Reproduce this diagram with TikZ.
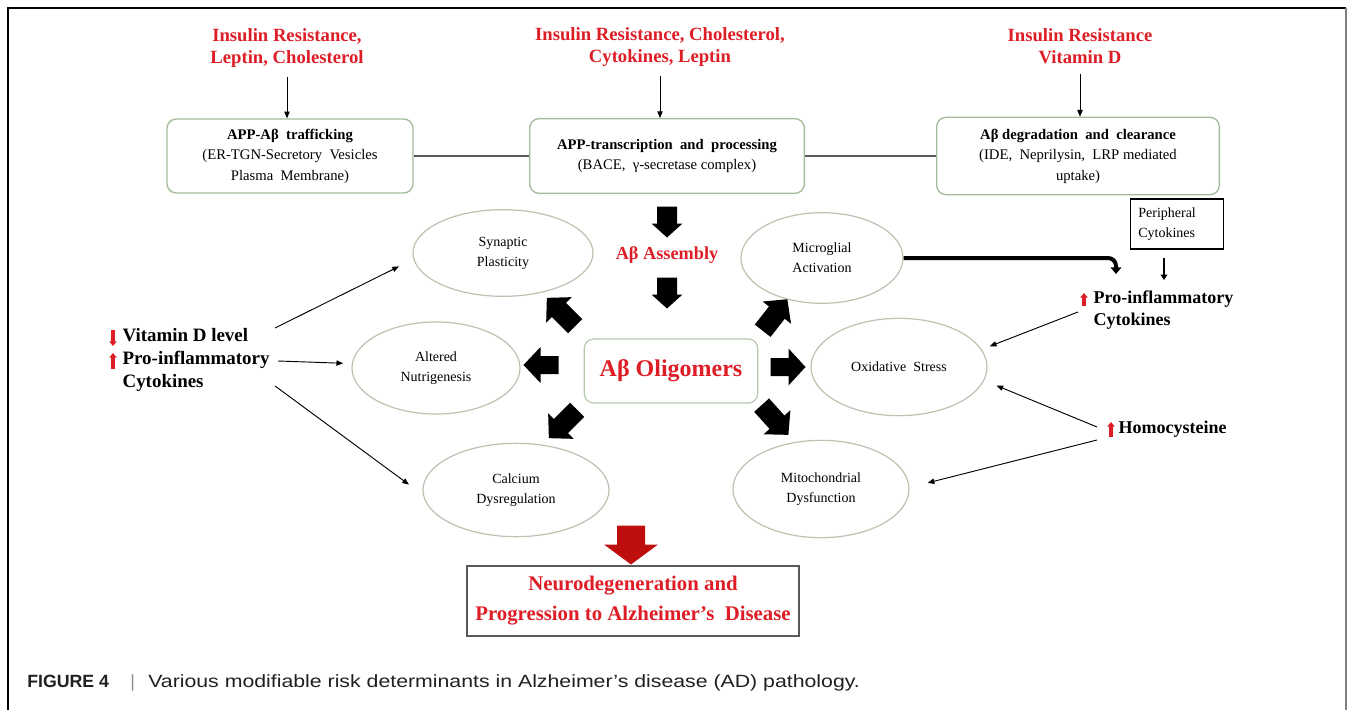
\documentclass[tikz,border=0pt]{standalone}
\usepackage{fontspec}
\setmainfont{Liberation Serif}
\newfontfamily\capfont{Liberation Sans}
\newfontfamily\capwide[FakeStretch=1.2]{Liberation Sans}
\usetikzlibrary{shapes.geometric,arrows.meta,calc}
\definecolor{adred}{RGB}{222,30,38}
\definecolor{boxedge}{RGB}{165,188,155}
\definecolor{elledge}{RGB}{185,195,175}
\definecolor{darkred}{RGB}{190,14,14}
\definecolor{captxt}{RGB}{35,31,32}
% block arrow: x, y, angle, length, shaft width, head width, head length, fill
\newcommand{\blkarr}[8]{%
  \begin{scope}[shift={(#1,#2)},rotate=#3]
    \fill[#8] (-#4/2,-#5/2) -- (#4/2-#7,-#5/2) -- (#4/2-#7,-#6/2) -- (#4/2,0)
      -- (#4/2-#7,#6/2) -- (#4/2-#7,#5/2) -- (-#4/2,#5/2) -- cycle;
  \end{scope}}
\begin{document}
\begin{tikzpicture}[x=0.75pt,y=-0.75pt,
  redlbl/.style={text=adred, font=\bfseries\fontsize{14}{17}\selectfont, align=center, inner sep=1pt},
  rbox/.style={draw=boxedge, line width=1pt, rounded corners=7pt, align=center,
    font=\fontsize{11}{15.4}\selectfont, inner sep=2pt},
  ell/.style={draw=elledge, line width=0.9pt, ellipse, inner sep=0pt, align=center,
    font=\fontsize{10.5}{15}\selectfont},
  thinarr/.style={draw=black, line width=0.7pt, -{Triangle[length=5pt,width=4pt]}},
  smallred/.style={draw=adred, line width=2.4pt, -{Triangle[length=3.5pt,width=5.5pt]}},
  sidetxt/.style={font=\bfseries\fontsize{14.2}{17.25}\selectfont, align=left, inner sep=1pt},
  conn/.style={draw=black!65, line width=0.8pt}
]
\useasboundingbox (0,0) rectangle (1354,710);
% frame
\draw[black, line width=1.5pt] (8,710) -- (8,8) -- (1346,8);
\draw[black!50, line width=1.8pt] (1346,8) -- (1346,710);

% top red labels
\node[redlbl] (r1) at (287,48) {Insulin Resistance,\\Leptin, Cholesterol};
\node[redlbl] (r2) at (660,47) {Insulin Resistance, Cholesterol,\\Cytokines, Leptin};
\node[redlbl] (r3) at (1080,46) {Insulin Resistance\\Vitamin D};

% top boxes
\node[rbox, minimum width=184.5pt, minimum height=55.5pt] (b1) at (290,156)
  {\textbf{APP-Aβ\ \ trafficking}\\(ER-TGN-Secretory\ \ Vesicles\\Plasma\ \ Membrane)};
\node[rbox, minimum width=206pt, minimum height=56pt] (b2) at (667,156)
  {\textbf{APP-transcription\ \ and\ \ processing}\\(BACE,\ \ γ-secretase complex)};
\node[rbox, minimum width=212pt, minimum height=58pt] (b3) at (1078,156)
  {\textbf{Aβ degradation\ \ and\ \ clearance}\\(IDE,\ \ Neprilysin,\ \ LRP mediated\\uptake)};

\draw[thinarr, shorten <=6pt] (r1.south) -- (r1.south |- b1.north);
\draw[thinarr, shorten <=6pt] (r2.south) -- (r2.south |- b2.north);
\draw[thinarr, shorten <=6pt] (r3.south) -- (r3.south |- b3.north);
\draw[conn] (b1.east) -- (b2.west);
\draw[conn] (b2.east) -- (b3.west);

% ellipses
\node[ell, minimum width=135pt, minimum height=65pt] (syn) at (503,253) {Synaptic\\Plasticity};
\node[ell, minimum width=121.5pt, minimum height=68pt] (mic) at (822,258) {Microglial\\Activation};
\node[ell, minimum width=126pt, minimum height=69pt] (alt) at (436,368) {Altered\\Nutrigenesis};
\node[ell, minimum width=132pt, minimum height=73pt] (oxi) at (899,367) {Oxidative\ \ Stress};
\node[ell, minimum width=139.5pt, minimum height=70pt] (cal) at (516,490) {Calcium\\Dysregulation};
\node[ell, minimum width=132pt, minimum height=73pt] (mit) at (821,489) {Mitochondrial\\Dysfunction};

% center
\node[text=adred, font=\bfseries\fontsize{13.7}{16}\selectfont, inner sep=1pt] (ass) at (667,255) {Aβ Assembly};
\node[draw=boxedge!80, line width=0.9pt, rounded corners=7pt, minimum width=130pt, minimum height=48pt,
  text=adred, font=\bfseries\fontsize{18}{20}\selectfont] (olig) at (671,371) {Aβ Oligomers};

% black block arrows
\blkarr{667}{222}{-90}{31}{20}{31}{14}{black}
\blkarr{667}{293}{-90}{31}{20}{31}{14}{black}
\blkarr{541}{365}{180}{35}{18}{36}{17}{black}
\blkarr{788}{367}{0}{35}{18}{37}{17}{black}
\blkarr{561}{312}{135}{40}{20}{36}{17}{black}
\blkarr{775}{315}{52}{40}{20}{36}{17}{black}
\blkarr{563}{424}{-135}{40}{20}{36}{17}{black}
\blkarr{775}{420}{-48}{40}{20}{36}{17}{black}

% left side
\node[sidetxt, anchor=west] (vit) at (121,360) {Vitamin D level\\Pro-inflammatory\\Cytokines};
\draw[smallred] (113,330) -- (113,346);
\draw[smallred] (113,369) -- (113,353);
\draw[thinarr, shorten >=12pt] ($(vit.east)+(4,-32)$) -- (syn.184);
\draw[thinarr, shorten >=6.5pt] ($(vit.east)+(7,1)$) -- (alt.177);
\draw[thinarr, shorten >=13pt] ($(vit.east)+(4,26)$) -- (cal.183);

% right side
\node[draw=black, line width=0.8pt, align=left, text width=58pt, minimum height=37.5pt,
  inner xsep=6pt, inner ysep=2pt,
  font=\fontsize{10.5}{15}\selectfont] (periph) at (1177,224) {Peripheral\\Cytokines};
\node[sidetxt, font=\bfseries\fontsize{13.5}{16.5}\selectfont, anchor=west] (proR) at (1092,310) {Pro-inflammatory\\Cytokines};
\draw[smallred] (1084,306) -- (1084,293);
\node[sidetxt, font=\bfseries\fontsize{13.5}{16.5}\selectfont, anchor=west] (homo) at (1117,429) {Homocysteine};
\draw[smallred] (1111,437) -- (1111,422);

\coordinate (pa) at (1164,280);
\draw[black, line width=1.6pt, shorten <=6pt, -{Triangle[length=4pt,width=5pt]}] (periph.south -| pa) -- (pa);
\coordinate (pinT) at (1116,274);
\draw[black, line width=3pt, rounded corners=6pt, -{Triangle[length=5pt,width=8pt]}]
  (mic.east) -- (mic.east -| pinT) -- (pinT);
\draw[thinarr, shorten >=6.5pt] ($(proR.west)+(-14,2)$) -- (oxi.12);
\draw[thinarr, shorten >=10pt] ($(homo.west)+(-20,-2)$) -- (oxi.-9);
\draw[thinarr, shorten >=14pt] ($(homo.west)+(-20,11)$) -- (mit.1);

% bottom
\blkarr{631}{545}{-90}{39}{28}{54}{20}{darkred}
\node[draw=black!65, line width=1.3pt, minimum width=249pt, minimum height=52.5pt, align=center,
  text=adred, font=\bfseries\fontsize{15.6}{22.5}\selectfont] (fin) at (633,601)
  {Neurodegeneration and\\Progression to Alzheimer’s\ \ Disease};

% caption
\node[anchor=west, text=captxt, font=\capfont\fontsize{13.3}{15}\selectfont, inner sep=0pt] (cap) at (27,683)
  {\textbf{FIGURE 4}\hspace{16pt}\textcolor{black!45}{|}\hspace{10pt}{\capwide Various modifiable risk determinants in Alzheimer’s disease (AD) pathology.}};
\end{tikzpicture}
\end{document}
